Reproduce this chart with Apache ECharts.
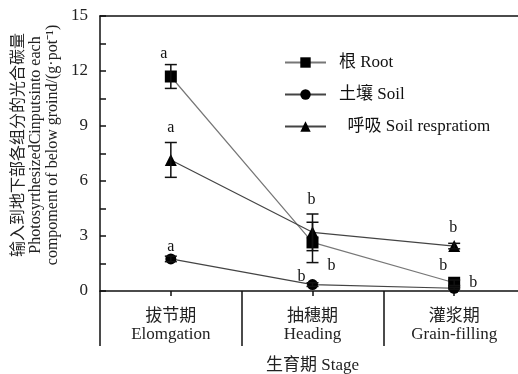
<!DOCTYPE html>
<html>
<head>
<meta charset="utf-8">
<script src="https://cdn.jsdelivr.net/npm/echarts@6/dist/echarts.min.js"></script>
<style>
html,body{margin:0;padding:0;background:#fff;}
#chart{width:518px;height:374px;}
</style>
</head>
<body>
<div id="chart"></div>
<script>
var stages = ['拔节期\nElomgation', '抽穗期\nHeading', '灌浆期\nGrain-filling'];
var yTicks = [0, 1.5, 3, 4.5, 6, 7.5, 9, 10.5, 12, 13.5, 15];
var yLabels = [0, 3, 6, 9, 12, 15];

var rootMean = [11.7, 2.65, 0.45];
var rootErr = [0.65, 1.1, 0.15];
var rootLetters = ['a', 'b', 'b'];

var soilMean = [1.75, 0.35, 0.15];
var soilErr = [0.15, 0.1, 0.05];
var soilLetters = ['a', 'b', 'b'];

var respMean = [7.15, 3.2, 2.45];
var respErr = [0.95, 1.0, 0.15];
var respLetters = ['a', 'b', 'b'];

var FONT = "'Liberation Serif', 'Noto Sans CJK SC', serif";

// letter placement (pixels from the point)
var letterOffsets = {
    root: [[-7, -23], [19, 23], [-11, -17]],
    soil: [[0, -12], [-11, -8], [19, -5]],
    resp: [[0, -32], [-1, -33], [-1, -18]]
};

function errSeries(mean, err, letters, offs) {
    return {
        type: 'custom',
        z: 5,
        clip: false,
        data: mean.map(function (m, i) { return [i, m, err[i]]; }),
        renderItem: function (params, api) {
            var i = params.dataIndex;
            var m = api.value(1), e = api.value(2);
            var p = api.coord([i, m]);
            var hi = api.coord([i, m + e]);
            var lo = api.coord([i, m - e]);
            var x = p[0];
            var st = {stroke: '#111', lineWidth: 1.5};
            return {
                type: 'group',
                children: [
                    {type: 'line', shape: {x1: x, y1: hi[1], x2: x, y2: lo[1]}, style: st},
                    {type: 'line', shape: {x1: x - 6, y1: hi[1], x2: x + 6, y2: hi[1]}, style: st},
                    {type: 'line', shape: {x1: x - 6, y1: lo[1], x2: x + 6, y2: lo[1]}, style: st},
                    {type: 'text', x: x + offs[i][0], y: p[1] + offs[i][1], style: {
                        text: letters[i], fill: '#111', font: '16px ' + FONT, align: 'center', verticalAlign: 'middle'
                    }}
                ]
            };
        }
    };
}

var axisLineStyle = {color: '#111', width: 1.5};

var chart = echarts.init(document.getElementById('chart'));
var option = {
    animation: false,
    textStyle: {fontFamily: FONT},
    grid: {left: 100, top: 16, width: 425, bottom: 83, outerBoundsMode: 'none', containLabel: false},
    legend: {
        orient: 'vertical',
        left: 279,
        top: 49,
        itemGap: 15,
        itemWidth: 41,
        itemHeight: 13,
        textStyle: {fontSize: 17, color: '#111', fontFamily: FONT, padding: [0, 0, 0, 8]},
        formatter: function (n) { return n === '呼吸 Soil respratiom' ? '  ' + n : n; },
        data: ['根 Root', '土壤 Soil', '呼吸 Soil respratiom']
    },
    graphic: [{
        type: 'text',
        x: 36, y: 145,
        rotation: Math.PI / 2,
        style: {
            text: '输入到地下部各组分的光合碳量\nPhotosyrthesizedCinputsinto each\ncompoment of below groind/(g·pot⁻¹)',
            font: '16px ' + FONT,
            lineHeight: 17,
            fill: '#222',
            align: 'center',
            verticalAlign: 'middle'
        }
    }],
    xAxis: [{
        // labels + name
        type: 'category',
        data: stages,
        axisLine: {onZero: false, lineStyle: axisLineStyle},
        axisTick: {show: false},
        axisLabel: {margin: 17, fontSize: 17, lineHeight: 18, color: '#222', fontFamily: FONT},
        name: '生育期 Stage',
        nameLocation: 'middle',
        nameGap: 66,
        nameTextStyle: {fontSize: 17, color: '#222', fontFamily: FONT}
    }, {
        // stage separators (first one extends the left axis)
        type: 'category',
        data: stages,
        position: 'bottom',
        offset: 0,
        axisLine: {show: false, onZero: false},
        axisTick: {show: true, inside: false, length: 55, lineStyle: axisLineStyle},
        axisLabel: {show: false}
    }, {
        // centre ticks
        type: 'category',
        data: stages,
        position: 'bottom',
        offset: 0,
        axisLine: {show: false, onZero: false},
        axisTick: {show: true, alignWithLabel: true, length: 5, lineStyle: axisLineStyle},
        axisLabel: {show: false}
    }, {
        type: 'category',
        data: stages,
        position: 'top',
        axisLine: {onZero: false, lineStyle: axisLineStyle},
        axisTick: {show: false},
        axisLabel: {show: false}
    }],
    yAxis: {
        type: 'value',
        min: 0,
        max: 15,
        interval: 1.5,
        axisLine: {show: true, lineStyle: axisLineStyle},
        axisTick: {show: true, inside: true, length: 6, customValues: yTicks, lineStyle: axisLineStyle},
        axisLabel: {customValues: yLabels, margin: 12, fontSize: 17, color: '#222', fontFamily: FONT},
        splitLine: {show: false}
    },
    series: [{
        name: '根 Root',
        type: 'line',
        data: rootMean,
        symbol: 'rect',
        symbolSize: 12,
        z: 3,
        clip: false,
        itemStyle: {color: '#000'},
        lineStyle: {color: '#777', width: 1.2}
    }, {
        name: '土壤 Soil',
        type: 'line',
        data: soilMean,
        symbol: 'circle',
        symbolSize: 11,
        z: 3,
        clip: false,
        itemStyle: {color: '#000'},
        lineStyle: {color: '#444', width: 1.2}
    }, {
        name: '呼吸 Soil respratiom',
        type: 'line',
        data: respMean,
        symbol: 'triangle',
        symbolSize: 12,
        z: 3,
        clip: false,
        itemStyle: {color: '#000'},
        lineStyle: {color: '#444', width: 1.2}
    },
        errSeries(rootMean, rootErr, rootLetters, letterOffsets.root),
        errSeries(soilMean, soilErr, soilLetters, letterOffsets.soil),
        errSeries(respMean, respErr, respLetters, letterOffsets.resp)
    ]
};
chart.setOption(option);
</script>
</body>
</html>
